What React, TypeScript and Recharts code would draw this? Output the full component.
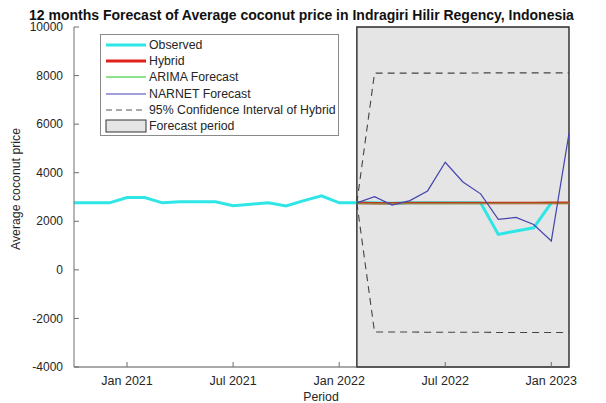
import React from 'react';
import { LineChart, Line, XAxis, YAxis, ReferenceArea } from 'recharts';

const months = [
  'Oct 2020', 'Nov 2020', 'Dec 2020', 'Jan 2021', 'Feb 2021', 'Mar 2021', 'Apr 2021', 'May 2021',
  'Jun 2021', 'Jul 2021', 'Aug 2021', 'Sep 2021', 'Oct 2021', 'Nov 2021', 'Dec 2021', 'Jan 2022',
  'Feb 2022', 'Mar 2022', 'Apr 2022', 'May 2022', 'Jun 2022', 'Jul 2022', 'Aug 2022', 'Sep 2022',
  'Oct 2022', 'Nov 2022', 'Dec 2022', 'Jan 2023', 'Feb 2023',
];

const xTickLabels = ['Jan 2021', 'Jul 2021', 'Jan 2022', 'Jul 2022', 'Jan 2023'];
const yTicks = [-4000, -2000, 0, 2000, 4000, 6000, 8000, 10000];

const observed: (number | null)[] = [
  2760, 2760, 2760, 2980, 2980, 2760, 2800, 2800, 2800, 2640, 2700, 2760, 2630, 2850, 3050, 2760,
  2760, 2760, 2740, 2760, 2760, 2760, 2760, 2760, 1460, 1600, 1730, 2760, null,
];

const forecastStart = 'Feb 2022';
const hybrid = [2760, 2745, 2745, 2750, 2750, 2755, 2755, 2750, 2750, 2755, 2755, 2760, 2760];
const arima = [2740, 2720, 2725, 2730, 2730, 2730, 2735, 2730, 2730, 2730, 2735, 2735, 2740];
const narnet = [2760, 3010, 2670, 2850, 3250, 4430, 3620, 3130, 2080, 2160, 1870, 1190, 5620];
const ciUpper = [2760, 8100, 8100, 8100, 8100, 8100, 8100, 8110, 8110, 8110, 8110, 8110, 8110];
const ciLower = [2760, -2560, -2560, -2560, -2570, -2570, -2570, -2570, -2580, -2580, -2580, -2580, -2580];

const fsIdx = months.indexOf(forecastStart);
const lastIdx = months.length - 1;
const tickIdx = xTickLabels.map((l) => months.indexOf(l));

const data = months.map((m, i) => {
  const f = i - fsIdx;
  const inF = f >= 0;
  return {
    idx: i,
    month: m,
    observed: observed[i],
    hybrid: inF ? hybrid[f] : null,
    arima: inF ? arima[f] : null,
    narnet: inF ? narnet[f] : null,
    ciUpper: inF ? ciUpper[f] : null,
    ciLower: inF ? ciLower[f] : null,
  };
});

const FONT = '"Liberation Sans", Arial, Helvetica, sans-serif';
const AXIS = '#6e6e6e';

const XTick = (p: any) => {
  const { x, y, payload } = p;
  return (
    <g>
      <line x1={x} x2={x} y1={y} y2={y - 5} stroke={AXIS} strokeWidth={1} />
      <text x={x} y={y + 18} textAnchor="middle" fontSize={12.5} fill="#262626" fontFamily={FONT}>
        {months[payload.value]}
      </text>
    </g>
  );
};

const TopTick = (p: any) => {
  const { x, y } = p;
  return <line x1={x} x2={x} y1={y} y2={y + 5} stroke={AXIS} strokeWidth={1} />;
};

const YTick = (p: any) => {
  const { x, y, payload } = p;
  return (
    <g>
      <line x1={x} x2={x + 5} y1={y} y2={y} stroke={AXIS} strokeWidth={1} />
      <text x={x - 11} y={y} dy="0.35em" textAnchor="end" fontSize={12} fill="#262626" fontFamily={FONT}>
        {payload.value}
      </text>
    </g>
  );
};

const legendItems = [
  { name: 'Observed', color: '#2ee6e6', width: 3, dash: '' },
  { name: 'Hybrid', color: '#e0201b', width: 3, dash: '' },
  { name: 'ARIMA Forecast', color: '#66dd66', width: 1.5, dash: '' },
  { name: 'NARNET Forecast', color: '#4040b5', width: 1.2, dash: '' },
  { name: '95% Confidence Interval of Hybrid', color: '#555', width: 1.2, dash: '6 4' },
];

export default function App() {
  return (
    <div style={{ position: 'absolute', left: 0, top: 0, width: 606, height: 403, background: '#fff', fontFamily: FONT }}>
      <LineChart width={606} height={403} data={data} margin={{ top: 27, right: 37, bottom: 0, left: 0 }}>
        <ReferenceArea
          x1={fsIdx}
          x2={lastIdx}
          y1={-4000}
          y2={10000}
          fill="#e5e5e5"
          fillOpacity={1}
          stroke="#2a2a2a"
          strokeWidth={1.4}
        />
        <XAxis
          dataKey="idx"
          type="number"
          domain={[0, lastIdx]}
          ticks={tickIdx}
          interval={0}
          height={36}
          tickSize={0}
          tickMargin={0}
          tickLine={false}
          axisLine={{ stroke: '#555' }}
          tick={(p: any) => <XTick {...p} />}
        />
        <XAxis
          xAxisId="top"
          orientation="top"
          dataKey="idx"
          type="number"
          domain={[0, lastIdx]}
          ticks={tickIdx}
          interval={0}
          height={0}
          tickSize={0}
          tickMargin={0}
          tickLine={false}
          axisLine={{ stroke: AXIS }}
          tick={(p: any) => <TopTick {...p} />}
        />
        <YAxis
          domain={[-4000, 10000]}
          ticks={yTicks}
          interval={0}
          width={74}
          tickSize={0}
          tickMargin={0}
          tickLine={false}
          axisLine={{ stroke: AXIS }}
          tick={(p: any) => <YTick {...p} />}
        />
        <Line dataKey="observed" stroke="#2ee6e6" strokeWidth={3} dot={false} isAnimationActive={false} />
        <Line dataKey="hybrid" stroke="#c23a1e" strokeWidth={2.6} dot={false} isAnimationActive={false} />
        <Line dataKey="arima" stroke="#66dd66" strokeWidth={1} strokeOpacity={0.5} dot={false} isAnimationActive={false} />
        <Line dataKey="narnet" stroke="#4545b0" strokeWidth={1.2} dot={false} isAnimationActive={false} />
        <Line dataKey="ciUpper" stroke="#444" strokeWidth={1.1} strokeDasharray="7 5" dot={false} isAnimationActive={false} />
        <Line dataKey="ciLower" stroke="#444" strokeWidth={1.1} strokeDasharray="7 5" dot={false} isAnimationActive={false} />
      </LineChart>

      <svg width={606} height={403} style={{ position: 'absolute', left: 0, top: 0, pointerEvents: 'none' }}>
        <text x={301.5} y={20} textAnchor="middle" fontSize={14} fontWeight="bold" fill="#111" fontFamily={FONT}>
          12 months Forecast of Average coconut price in Indragiri Hilir Regency, Indonesia
        </text>
        <text transform="translate(19.5,189) rotate(-90)" textAnchor="middle" fontSize={12.3} fill="#262626" fontFamily={FONT}>
          Average coconut price
        </text>
        <text x={321} y={401} textAnchor="middle" fontSize={12.3} fill="#262626" fontFamily={FONT}>
          Period
        </text>
      </svg>

      <div
        style={{
          position: 'absolute',
          left: 100,
          top: 34,
          width: 237,
          height: 98,
          border: '1px solid #8a8a8a',
          background: '#fff',
          paddingTop: 2,
          boxSizing: 'content-box',
        }}
      >
        {legendItems.map((it) => (
          <div key={it.name} style={{ height: 16.2, display: 'flex', alignItems: 'center' }}>
            <svg width={48} height={16} style={{ flex: 'none' }}>
              <line x1={5} x2={45} y1={8} y2={8} stroke={it.color} strokeWidth={it.width} strokeDasharray={it.dash || undefined} />
            </svg>
            <span style={{ fontSize: 12.3, color: '#262626', whiteSpace: 'nowrap', lineHeight: '16px' }}>{it.name}</span>
          </div>
        ))}
        <div style={{ height: 16.2, display: 'flex', alignItems: 'center' }}>
          <svg width={48} height={16} style={{ flex: 'none' }}>
            <rect x={5} y={2} width={40} height={12} fill="#e5e5e5" stroke="#333" strokeWidth={1} />
          </svg>
          <span style={{ fontSize: 12.3, color: '#262626', whiteSpace: 'nowrap', lineHeight: '16px' }}>Forecast period</span>
        </div>
      </div>
    </div>
  );
}
